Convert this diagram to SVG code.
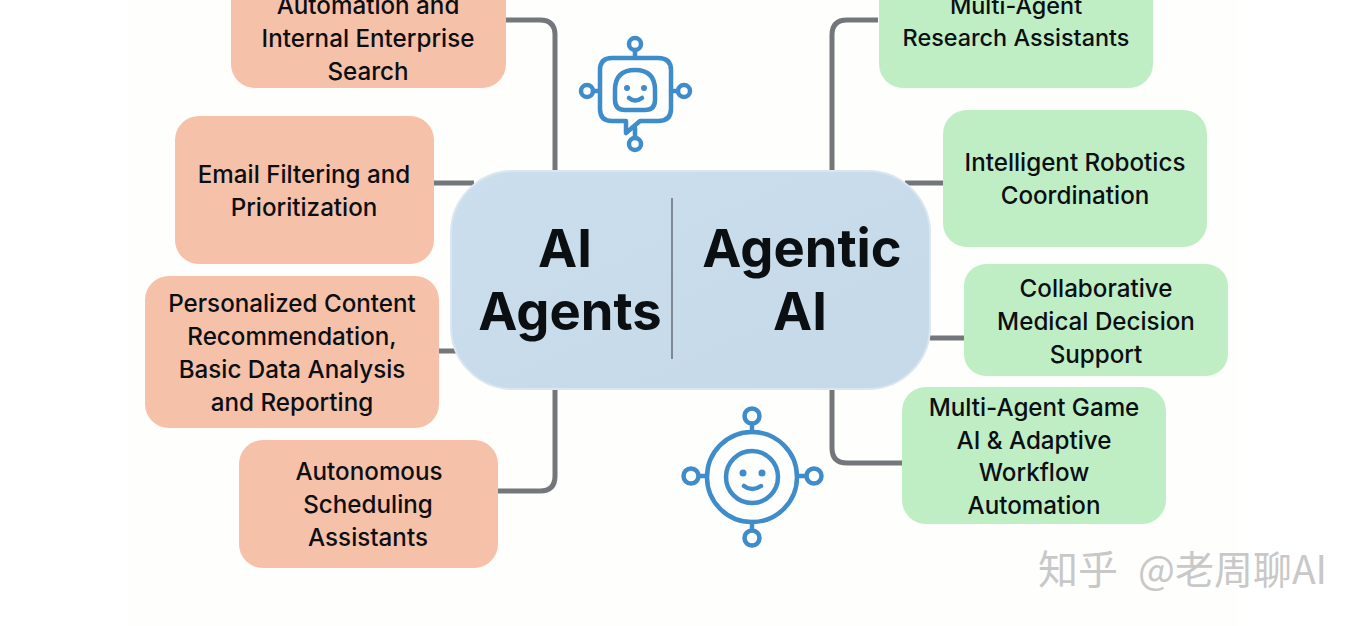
<svg xmlns="http://www.w3.org/2000/svg" width="1360" height="626" viewBox="0 0 1360 626">
<defs>
<linearGradient id="cg" x1="0" y1="0" x2="1" y2="1"><stop offset="0" stop-color="#cbdeed"/><stop offset="1" stop-color="#c6d9e9"/></linearGradient>
<style>
.t{font-family:"Inter","Liberation Sans",Arial,sans-serif;font-size:24.2px;font-weight:500;fill:#0c0f12;text-anchor:middle}
.h{font-family:"Inter","Liberation Sans",Arial,sans-serif;font-size:52.5px;font-weight:700;fill:#0c0f12;text-anchor:middle}
.o{fill:#f6c1a9}.g{fill:#bfeec5}
.c{fill:none;stroke:#73777b;stroke-width:5}
.i{fill:none;stroke:#3f8ccb;stroke-width:4.5;stroke-linecap:round;stroke-linejoin:round}
.d{fill:#3f8ccb}
.w{font-family:"Noto Sans CJK SC","Liberation Sans",sans-serif;fill:#c8c8c8}
</style>
</defs>
<rect width="1360" height="626" fill="#ffffff"/>
<rect x="128" y="0" width="1110" height="626" fill="#fefefd"/>
<g id="connectors">
<path class="c" d="M505 20H540Q555 20 555 35V172"/>
<path class="c" d="M433 183H474"/>
<path class="c" d="M438 351H456"/>
<path class="c" d="M497 491H540Q555 491 555 476V390"/>
<path class="c" d="M878 20H847Q832 20 832 35V172"/>
<path class="c" d="M905 183H943"/>
<path class="c" d="M930 338H964"/>
<path class="c" d="M832 390V448Q832 463 847 463H902"/>
</g>
<g id="node-automation"><rect class="o" x="231" y="-40" width="275" height="128" rx="24"/><text class="t" x="368" y="14">Automation and</text><text class="t" x="368" y="47">Internal Enterprise</text><text class="t" x="368" y="80">Search</text></g>
<g id="node-email"><rect class="o" x="175" y="116" width="259" height="148" rx="24"/><text class="t" x="304" y="183">Email Filtering and</text><text class="t" x="304" y="216">Prioritization</text></g>
<g id="node-personalized"><rect class="o" x="145" y="276" width="294" height="152" rx="24"/><text class="t" x="292" y="312">Personalized Content</text><text class="t" x="292" y="345">Recommendation,</text><text class="t" x="292" y="378">Basic Data Analysis</text><text class="t" x="292" y="411">and Reporting</text></g>
<g id="node-scheduling"><rect class="o" x="239" y="440" width="259" height="128" rx="24"/><text class="t" x="369" y="480">Autonomous</text><text class="t" x="368" y="513">Scheduling</text><text class="t" x="368" y="546">Assistants</text></g>
<g id="node-research"><rect class="g" x="879" y="-40" width="274" height="128" rx="24"/><text class="t" x="1016" y="14" style="font-size:23.4px">Multi-Agent</text><text class="t" x="1016" y="46" style="font-size:23.4px">Research Assistants</text></g>
<g id="node-robotics"><rect class="g" x="943" y="110" width="264" height="137" rx="24"/><text class="t" x="1075" y="171">Intelligent Robotics</text><text class="t" x="1075" y="204">Coordination</text></g>
<g id="node-medical"><rect class="g" x="964" y="264" width="264" height="112" rx="22"/><text class="t" x="1096" y="297">Collaborative</text><text class="t" x="1096" y="330">Medical Decision</text><text class="t" x="1096" y="363">Support</text></g>
<g id="node-game"><rect class="g" x="902" y="387" width="264" height="137" rx="24"/><text class="t" x="1034" y="416">Multi-Agent Game</text><text class="t" x="1034" y="449">AI &amp; Adaptive</text><text class="t" x="1034" y="481">Workflow</text><text class="t" x="1034" y="514">Automation</text></g>
<g id="node-center"><rect x="451" y="171" width="479" height="218" rx="62" fill="url(#cg)" stroke="#dbe6ef" stroke-width="2"/><line x1="672" y1="198" x2="672" y2="359" stroke="#7d8a96" stroke-width="2"/><text class="h" x="565" y="267">AI</text><text class="h" x="570" y="330">Agents</text><text class="h" x="802" y="267">Agentic</text><text class="h" x="800" y="330">AI</text></g>
<g id="icon-bot">
<path class="i" d="M612 58H658Q671 58 671 70V109Q671 121 658 121H640L626 133V121H612Q600 121 600 109V70Q600 58 612 58Z"/>
<path class="i" d="M635 70Q655 70 655 90V100Q655 110 645 110H625Q615 110 615 100V90Q615 70 635 70Z"/>
<circle class="d" cx="627" cy="88" r="3"/><circle class="d" cx="644" cy="88" r="3"/>
<path class="i" d="M629 98Q635 103 642 98"/>
<circle class="i" cx="635" cy="44" r="6"/><circle class="i" cx="587" cy="91" r="6"/><circle class="i" cx="684" cy="91" r="6"/><circle class="i" cx="635" cy="144" r="6"/>
<path class="i" d="M635 50V58M593 91H600M671 91H678M635 128V138"/>
</g>
<g id="icon-agentic">
<circle class="i" cx="752" cy="477" r="45"/><circle class="i" cx="752" cy="477" r="26"/>
<circle class="d" cx="743" cy="473" r="3.5"/><circle class="d" cx="762" cy="473" r="3.5"/>
<path class="i" d="M744 486Q752 492 761 486"/>
<circle class="i" cx="752" cy="416" r="7.5"/><circle class="i" cx="691" cy="476" r="7.5"/><circle class="i" cx="814" cy="476" r="7.5"/><circle class="i" cx="752" cy="538" r="7.5"/>
<path class="i" d="M752 424V432M699 476H707M797 476H806M752 522V530"/>
</g>
<text class="w" x="1038" y="584" font-size="40">知乎</text>
<text class="w" x="1138" y="584" font-size="39">@老周聊AI</text>
</svg>
